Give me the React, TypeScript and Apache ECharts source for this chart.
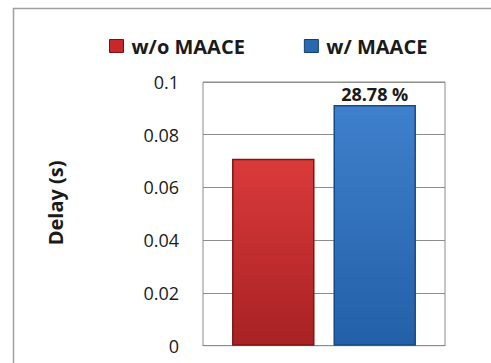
import React, { useEffect, useRef } from "react";
import * as echarts from "echarts";

const categories = ["Delay"];
const seriesNames = ["w/o MAACE", "w/ MAACE"];
const withoutMaace = [0.0709];
const withMaace = [0.0913];
const improvementLabel = "28.78 %";

const FONT = "'Open Sans', 'DejaVu Sans', sans-serif";

export default function App() {
  const ref = useRef<HTMLDivElement>(null);
  useEffect(() => {
    if (!ref.current) return;
    const chart = echarts.init(ref.current, undefined, { renderer: "svg" });
    const red = new echarts.graphic.LinearGradient(0, 0, 0, 1, [
      { offset: 0, color: "#da3a3a" },
      { offset: 1, color: "#a82224" },
    ]);
    const blue = new echarts.graphic.LinearGradient(0, 0, 0, 1, [
      { offset: 0, color: "#3f80cc" },
      { offset: 1, color: "#2360a8" },
    ]);
    chart.setOption({
      animation: false,
      backgroundColor: "#ffffff",
      graphic: [
        {
          type: "rect",
          shape: { x: 13.5, y: 8.5, width: 700, height: 600 },
          style: { fill: "none", stroke: "#a0a0a0", lineWidth: 1.5 },
          z: 100,
        },
      ],
      legend: {
        data: [
          { name: seriesNames[0], itemStyle: { color: "#c8282a", borderColor: "#7a1010", borderWidth: 1 } },
          { name: seriesNames[1], itemStyle: { color: "#2a68b4", borderColor: "#123e70", borderWidth: 1 } },
        ],
        left: 104,
        top: 31,
        icon: "rect",
        itemWidth: 14,
        itemHeight: 13,
        itemGap: 59,
        textStyle: {
          fontFamily: FONT,
          fontWeight: "bold",
          fontSize: 20,
          color: "#1a1a1a",
          padding: [0, 0, 0, 3],
        },
      },
      grid: { left: 203, top: 82, right: 46, bottom: 17.3, show: true, borderColor: "#8c8c8c", borderWidth: 1 },
      xAxis: {
        type: "category",
        data: categories,
        axisLine: { show: true, lineStyle: { color: "#8c8c8c" } },
        axisTick: { show: false },
        axisLabel: { show: false },
      },
      yAxis: {
        type: "value",
        min: 0,
        max: 0.1,
        interval: 0.02,
        name: "Delay (s)",
        nameLocation: "middle",
        nameGap: 138,
        nameTextStyle: {
          fontFamily: FONT,
          fontWeight: "bold",
          fontSize: 20,
          color: "#1a1a1a",
          padding: [0, 0, 0, 22],
        },
        axisLine: { show: false },
        axisTick: { show: false },
        axisLabel: {
          fontFamily: FONT,
          fontSize: 18,
          color: "#1a1a1a",
          margin: 24,
        },
        splitLine: { lineStyle: { color: "#8c8c8c", width: 1 } },
      },
      series: [
        {
          name: seriesNames[0],
          type: "bar",
          data: withoutMaace,
          barGap: "23%",
          barCategoryGap: "24%",
          itemStyle: { color: red, borderColor: "#7e1616", borderWidth: 1.5 },
        },
        {
          name: seriesNames[1],
          type: "bar",
          data: withMaace,
          itemStyle: { color: blue, borderColor: "#164a86", borderWidth: 1.5 },
          label: {
            show: true,
            position: "top",
            distance: 2,
            formatter: improvementLabel,
            fontFamily: FONT,
            fontWeight: "bold",
            fontSize: 18,
            color: "#1a1a1a",
          },
        },
      ],
    });
    return () => chart.dispose();
  }, []);
  return (
    <div
      ref={ref}
      style={{ position: "fixed", left: 0, top: 0, width: 491, height: 363 }}
    />
  );
}
